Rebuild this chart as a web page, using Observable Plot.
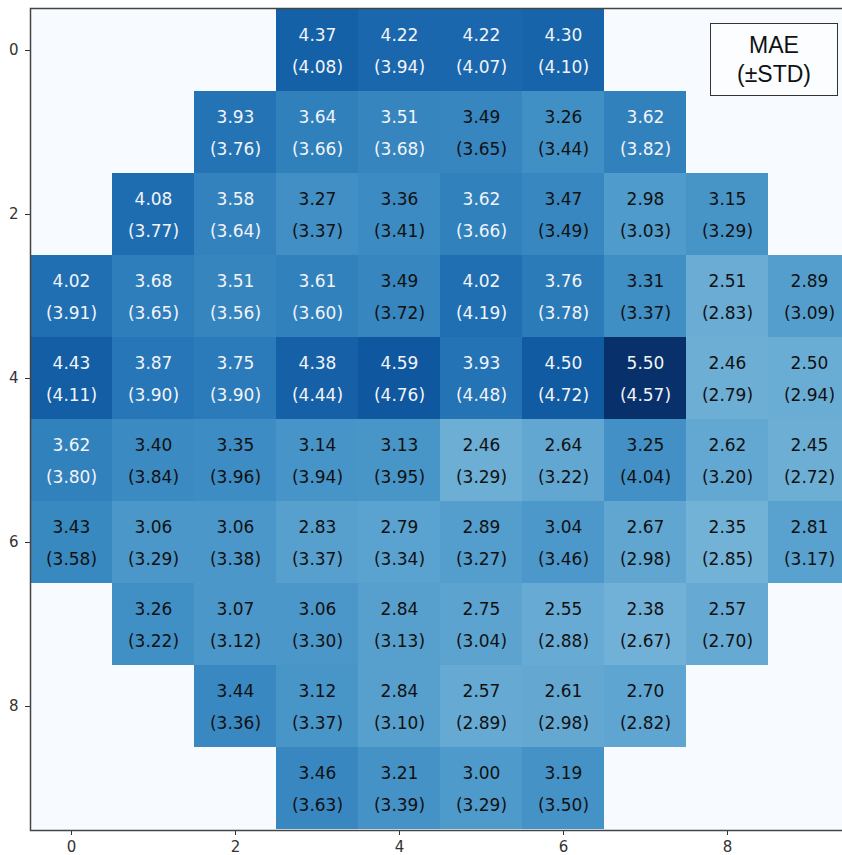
<!DOCTYPE html>
<html>
<head>
<meta charset="utf-8">
<script src="https://cdn.jsdelivr.net/npm/d3@7"></script>
<script src="https://cdn.jsdelivr.net/npm/@observablehq/plot@0.6"></script>
<style>
  html, body { margin: 0; padding: 0; background: white; overflow: hidden; }
  #wrap { position: relative; width: 842px; height: 855px; }
  #legend-box {
    position: absolute; left: 710px; top: 23px; width: 126px; height: 71px;
    border: 1.5px solid #333; background: #fbfdff;
    font-family: "Liberation Sans", Arial, sans-serif; font-size: 23px; color: #111;
    display: flex; flex-direction: column; justify-content: center; align-items: center;
    line-height: 29px;
  }
</style>
</head>
<body>
<div id="wrap">
  <div id="chart"></div>
  <div id="legend-box"><div>MAE</div><div>(±STD)</div></div>
</div>
<script>
// Grid indices (rows top to bottom, columns left to right)
const rowIds = [0, 1, 2, 3, 4, 5, 6, 7, 8, 9];
const colIds = [0, 1, 2, 3, 4, 5, 6, 7, 8, 9];
const tickValues = [0, 2, 4, 6, 8];

// Mean absolute error per cell (null = no data)
const maeGrid = [
  [null, null, null, 4.37, 4.22, 4.22, 4.30, null, null, null],
  [null, null, 3.93, 3.64, 3.51, 3.49, 3.26, 3.62, null, null],
  [null, 4.08, 3.58, 3.27, 3.36, 3.62, 3.47, 2.98, 3.15, null],
  [4.02, 3.68, 3.51, 3.61, 3.49, 4.02, 3.76, 3.31, 2.51, 2.89],
  [4.43, 3.87, 3.75, 4.38, 4.59, 3.93, 4.50, 5.50, 2.46, 2.50],
  [3.62, 3.40, 3.35, 3.14, 3.13, 2.46, 2.64, 3.25, 2.62, 2.45],
  [3.43, 3.06, 3.06, 2.83, 2.79, 2.89, 3.04, 2.67, 2.35, 2.81],
  [null, 3.26, 3.07, 3.06, 2.84, 2.75, 2.55, 2.38, 2.57, null],
  [null, null, 3.44, 3.12, 2.84, 2.57, 2.61, 2.70, null, null],
  [null, null, null, 3.46, 3.21, 3.00, 3.19, null, null, null]
];

// Standard deviation per cell
const stdGrid = [
  [null, null, null, 4.08, 3.94, 4.07, 4.10, null, null, null],
  [null, null, 3.76, 3.66, 3.68, 3.65, 3.44, 3.82, null, null],
  [null, 3.77, 3.64, 3.37, 3.41, 3.66, 3.49, 3.03, 3.29, null],
  [3.91, 3.65, 3.56, 3.60, 3.72, 4.19, 3.78, 3.37, 2.83, 3.09],
  [4.11, 3.90, 3.90, 4.44, 4.76, 4.48, 4.72, 4.57, 2.79, 2.94],
  [3.80, 3.84, 3.96, 3.94, 3.95, 3.29, 3.22, 4.04, 3.20, 2.72],
  [3.58, 3.29, 3.38, 3.37, 3.34, 3.27, 3.46, 2.98, 2.85, 3.17],
  [null, 3.22, 3.12, 3.30, 3.13, 3.04, 2.88, 2.67, 2.70, null],
  [null, null, 3.36, 3.37, 3.10, 2.89, 2.98, 2.82, null, null],
  [null, null, null, 3.63, 3.39, 3.29, 3.50, null, null, null]
];

const cells = rowIds.flatMap(r => colIds
  .filter(c => maeGrid[r][c] != null)
  .map(c => ({row: r, col: c, mae: maeGrid[r][c], std: stdGrid[r][c]})));

const textFill = d => d.mae > 3.5 ? "#f2f4f7" : "#111";

const chart = Plot.plot({
  width: 842,
  height: 855,
  marginLeft: 30,
  marginRight: -8,
  marginTop: 8,
  marginBottom: 25,
  style: {fontFamily: "DejaVu Sans", fontSize: "15px", color: "#333", background: "white"},
  x: {type: "band", domain: colIds, padding: 0, ticks: tickValues, tickSize: 5, tickPadding: 6, label: null},
  y: {type: "band", domain: rowIds, padding: 0, ticks: tickValues, tickSize: 5, tickPadding: 7, label: null},
  color: {type: "linear", scheme: "blues", domain: [-0.58, 5.5]},
  marks: [
    Plot.frame({fill: "#f7fbff"}),
    Plot.cell(cells, {x: "col", y: "row", fill: "mae", shapeRendering: "crispEdges"}),
    Plot.text(cells, {x: "col", y: "row", text: d => d.mae.toFixed(2), dy: -15, fill: textFill, fontSize: 17}),
    Plot.text(cells, {x: "col", y: "row", text: d => `(${d.std.toFixed(2)})`, dy: 17, fill: textFill, fontSize: 17}),
    Plot.frame({stroke: "#444", strokeWidth: 1.5})
  ]
});

document.getElementById("chart").appendChild(chart);
</script>
</body>
</html>
